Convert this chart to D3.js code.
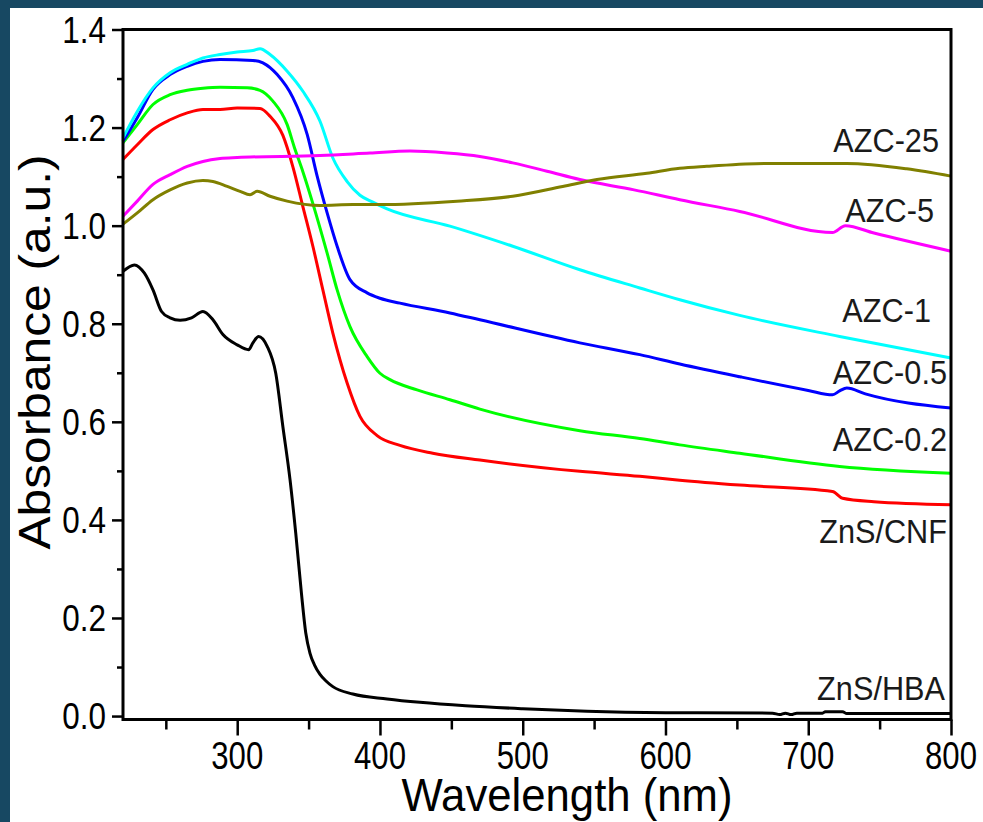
<!DOCTYPE html>
<html>
<head>
<meta charset="utf-8">
<script src="https://cdn.jsdelivr.net/npm/d3@7"></script>
<style>
  html, body { margin: 0; padding: 0; background: #174862; }
  svg { display: block; }
  text { font-family: "Liberation Sans", Arial, sans-serif; }
</style>
</head>
<body>
<svg id="chart" width="983" height="822"></svg>
<script>
// Spectra (wavelength in nm, absorbance in a.u.)
const hbaWl  = [220, 228, 235, 241, 247, 253, 260, 268, 276, 283, 290, 300, 308, 311, 315, 321, 327, 332, 337, 341, 345, 348, 351, 354, 358, 362, 367, 381, 405, 428, 460, 500, 545, 600, 675, 680, 684, 688, 692, 710, 712, 724, 727, 800];
const hbaAbs = [0.907, 0.920, 0.903, 0.869, 0.825, 0.812, 0.807, 0.812, 0.825, 0.808, 0.778, 0.757, 0.747, 0.761, 0.774, 0.754, 0.699, 0.590, 0.482, 0.373, 0.250, 0.170, 0.128, 0.105, 0.085, 0.072, 0.060, 0.045, 0.035, 0.028, 0.021, 0.015, 0.010, 0.007, 0.006, 0.003, 0.006, 0.003, 0.006, 0.006, 0.009, 0.009, 0.005, 0.005];

const cnfWl  = [220, 230, 241, 253, 265, 276, 288, 300, 316, 323, 332, 339, 346, 353, 360, 367, 377, 386, 398, 414, 437, 470, 540, 582, 610, 652, 717, 724, 746, 800];
const cnfAbs = [1.135, 1.165, 1.196, 1.216, 1.230, 1.237, 1.237, 1.240, 1.239, 1.223, 1.184, 1.120, 1.039, 0.958, 0.869, 0.781, 0.679, 0.611, 0.572, 0.552, 0.536, 0.522, 0.499, 0.489, 0.481, 0.471, 0.458, 0.444, 0.437, 0.431];

const azc02Wl  = [220, 230, 241, 253, 265, 276, 288, 307, 316, 325, 335, 340, 346, 353, 363, 370, 379, 391, 400, 407, 426, 449, 470, 540, 582, 610, 652, 722, 800];
const azc02Abs = [1.169, 1.206, 1.247, 1.267, 1.276, 1.280, 1.282, 1.281, 1.276, 1.254, 1.206, 1.160, 1.110, 1.045, 0.944, 0.869, 0.794, 0.733, 0.699, 0.686, 0.665, 0.645, 0.626, 0.582, 0.566, 0.553, 0.536, 0.509, 0.495];

const azc05Wl  = [220, 230, 241, 253, 265, 276, 288, 311, 318, 328, 339, 349, 356, 363, 370, 379, 391, 400, 414, 449, 470, 540, 582, 610, 652, 700, 717, 722, 727, 740, 800];
const azc05Abs = [1.172, 1.220, 1.278, 1.308, 1.325, 1.335, 1.339, 1.337, 1.332, 1.308, 1.261, 1.186, 1.101, 1.026, 0.958, 0.890, 0.863, 0.852, 0.842, 0.822, 0.808, 0.761, 0.737, 0.718, 0.692, 0.664, 0.655, 0.663, 0.669, 0.657, 0.628];

const azc1Wl  = [220, 230, 241, 253, 265, 276, 288, 300, 311, 316, 323, 335, 346, 358, 367, 377, 386, 395, 405, 449, 493, 540, 582, 610, 652, 722, 800];
const azc1Abs = [1.179, 1.233, 1.281, 1.312, 1.329, 1.342, 1.349, 1.354, 1.357, 1.361, 1.349, 1.315, 1.274, 1.213, 1.138, 1.090, 1.062, 1.048, 1.034, 0.999, 0.958, 0.910, 0.873, 0.849, 0.817, 0.774, 0.730];

const azc5Wl  = [220, 230, 241, 253, 265, 276, 288, 300, 358, 393, 421, 447, 470, 493, 517, 540, 578, 610, 652, 717, 726, 746, 800];
const azc5Abs = [1.019, 1.050, 1.084, 1.104, 1.121, 1.131, 1.137, 1.139, 1.143, 1.148, 1.152, 1.148, 1.141, 1.128, 1.111, 1.094, 1.073, 1.053, 1.029, 0.986, 1.000, 0.985, 0.948];

const azc25Wl  = [220, 230, 241, 253, 265, 276, 283, 293, 302, 309, 314, 323, 335, 358, 381, 400, 454, 493, 528, 552, 587, 610, 629, 669, 727, 769, 800];
const azc25Abs = [1.003, 1.026, 1.053, 1.073, 1.087, 1.092, 1.090, 1.080, 1.070, 1.063, 1.070, 1.060, 1.050, 1.041, 1.043, 1.043, 1.050, 1.060, 1.080, 1.094, 1.107, 1.117, 1.121, 1.127, 1.127, 1.116, 1.101];

const seriesNames = ['ZnS/HBA', 'ZnS/CNF', 'AZC-0.2', 'AZC-0.5', 'AZC-1', 'AZC-5', 'AZC-25'];
const seriesWl    = [hbaWl, cnfWl, azc02Wl, azc05Wl, azc1Wl, azc5Wl, azc25Wl];
const seriesAbs   = [hbaAbs, cnfAbs, azc02Abs, azc05Abs, azc1Abs, azc5Abs, azc25Abs];

const xMajorTicks = [300, 400, 500, 600, 700, 800];
const xMinorTicks = [250, 350, 450, 550, 650, 750];
const yMajorTicks = [0, 0.2, 0.4, 0.6, 0.8, 1.0, 1.2, 1.4];
const yMinorTicks = [0.1, 0.3, 0.5, 0.7, 0.9, 1.1, 1.3];

// Styles / layout
const colours = ['#000000', '#ff0000', '#00ff00', '#0000ff', '#00ffff', '#ff00ff', '#808000'];
// label anchor (right edge, baseline) for each series
const labelPos = [[945, 700], [947, 543], [947, 451], [947, 384], [931, 322], [934, 222], [939, 152]];

const plot = { left: 123, right: 951, top: 29.5, bottom: 719.5 };

const x = d3.scaleLinear().domain([220, 800]).range([plot.left, plot.right]);
const y = d3.scaleLinear().domain([-0.007, 1.4]).range([plot.bottom, plot.top]);

const svg = d3.select('#chart');

// White page area inside the dark frame
svg.append('rect')
    .attr('x', 10).attr('y', 8)
    .attr('width', 983 - 10).attr('height', 822 - 8)
    .attr('fill', '#ffffff');

// Spectra
const line = d3.line()
    .x(d => x(d[0]))
    .y(d => y(d[1]))
    .curve(d3.curveMonotoneX);

svg.append('g')
    .selectAll('path')
    .data(seriesNames.map((name, i) => ({
        name: name,
        colour: colours[i],
        points: seriesWl[i].map((w, j) => [w, seriesAbs[i][j]])
    })))
    .enter()
    .append('path')
    .attr('d', d => line(d.points))
    .attr('fill', 'none')
    .attr('stroke', d => d.colour)
    .attr('stroke-width', 3)
    .attr('stroke-linejoin', 'round');

// Frame
svg.append('rect')
    .attr('x', plot.left).attr('y', plot.top)
    .attr('width', plot.right - plot.left)
    .attr('height', plot.bottom - plot.top)
    .attr('fill', 'none')
    .attr('stroke', '#000')
    .attr('stroke-width', 3);

// Ticks
const tickStyle = g => {
    g.select('.domain').remove();
    g.selectAll('line').attr('stroke', '#000').attr('stroke-width', 2.5);
};

svg.append('g')
    .attr('transform', `translate(0,${plot.bottom})`)
    .call(d3.axisBottom(x).tickValues(xMajorTicks).tickSize(16).tickFormat(''))
    .call(tickStyle);
svg.append('g')
    .attr('transform', `translate(0,${plot.bottom})`)
    .call(d3.axisBottom(x).tickValues(xMinorTicks).tickSize(10).tickFormat(''))
    .call(tickStyle);
svg.append('g')
    .attr('transform', `translate(${plot.left},0)`)
    .call(d3.axisLeft(y).tickValues(yMajorTicks).tickSize(11).tickFormat(''))
    .call(tickStyle);
svg.append('g')
    .attr('transform', `translate(${plot.left},0)`)
    .call(d3.axisLeft(y).tickValues(yMinorTicks).tickSize(6).tickFormat(''))
    .call(tickStyle);

// Tick labels (slightly condensed, like the original)
svg.append('g')
    .selectAll('text')
    .data(xMajorTicks)
    .enter()
    .append('text')
    .attr('transform', d => `translate(${x(d)},769) scale(0.82,1)`)
    .attr('text-anchor', 'middle')
    .attr('font-size', 38)
    .attr('fill', '#000')
    .text(d => d);

svg.append('g')
    .selectAll('text')
    .data(yMajorTicks)
    .enter()
    .append('text')
    .attr('transform', d => `translate(106,${y(d) + 13}) scale(0.85,1)`)
    .attr('text-anchor', 'end')
    .attr('font-size', 37)
    .attr('fill', '#000')
    .text(d => d3.format('.1f')(d));

// Axis titles
svg.append('text')
    .attr('transform', 'translate(567,811) scale(0.95,1)')
    .attr('text-anchor', 'middle')
    .attr('font-size', 46)
    .attr('fill', '#000')
    .text('Wavelength (nm)');

svg.append('text')
    .attr('transform', 'translate(50,352) rotate(-90) scale(1.13,1)')
    .attr('text-anchor', 'middle')
    .attr('font-size', 44)
    .attr('fill', '#000')
    .text('Absorbance (a.u.)');

// Series labels
svg.append('g')
    .selectAll('text')
    .data(seriesNames)
    .enter()
    .append('text')
    .attr('transform', (d, i) => `translate(${labelPos[i][0]},${labelPos[i][1]}) scale(0.93,1)`)
    .attr('text-anchor', 'end')
    .attr('font-size', 33)
    .attr('fill', '#1a1a1a')
    .text(d => d);
</script>
</body>
</html>
